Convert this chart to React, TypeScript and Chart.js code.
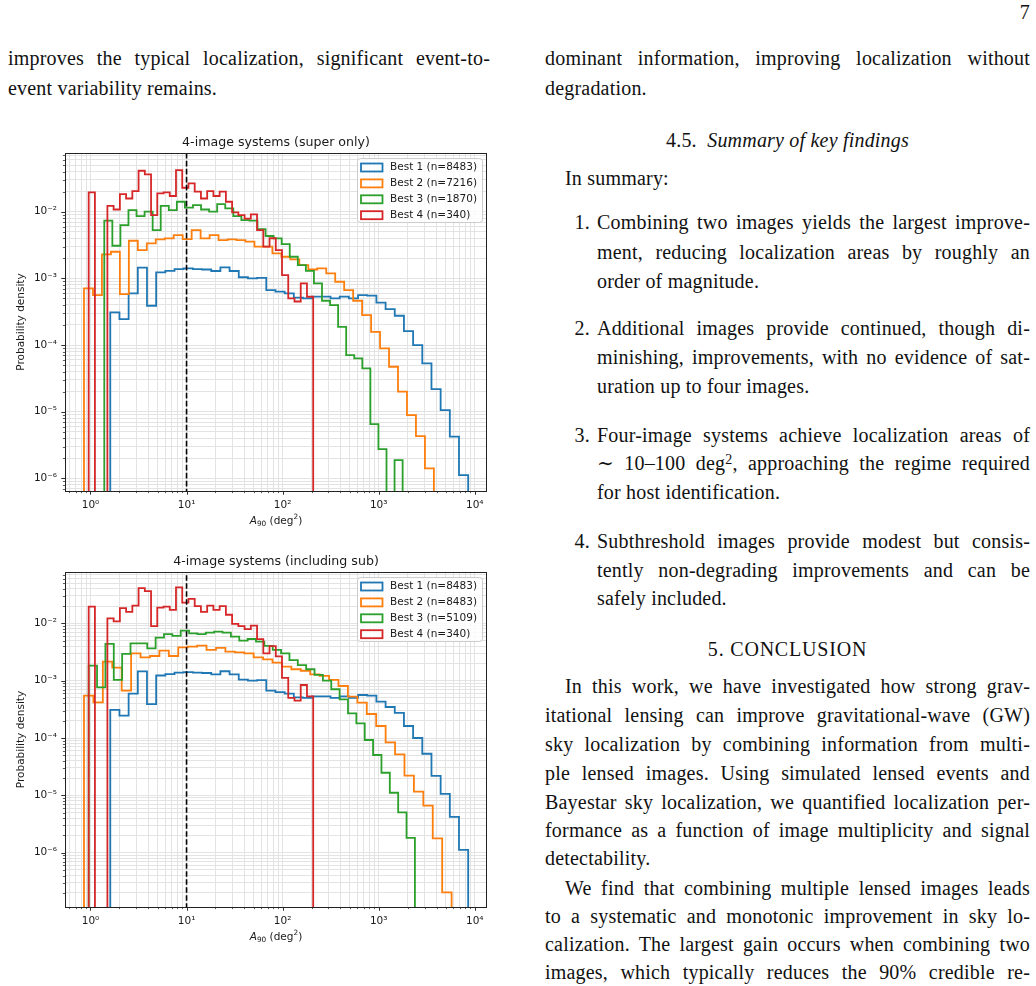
import React, { useEffect, useRef } from "react";
import { Chart, registerables } from "chart.js";

Chart.register(...registerables);

// ---------------- data ----------------
const SERIES_NAMES = ["Best 1", "Best 2", "Best 3", "Best 4"];
const SUPER_COUNTS = [8483, 7216, 1870, 340];
const SUB_COUNTS = [8483, 8483, 5109, 340];
const SUPER_TITLE = "4-image systems (super only)";
const SUB_TITLE = "4-image systems (including sub)";
const Y_AXIS_LABEL = "Probability density";
// x label "A_90 (deg^2)": [italic base, subscript, text, superscript, text]
const X_AXIS_LABEL_PARTS = ["A", "90", " (deg", "2", ")"];
const X_TICK_DECADES = [0, 1, 2, 3, 4];
const Y_TICK_DECADES = [-6, -5, -4, -3, -2];
const X_LIMITS = [0.543, 13400];
const SUPER_Y_LIMITS = [6.47e-7, 0.076];
const SUB_Y_LIMITS = [1.13e-7, 0.0785];
const REFERENCE_A90 = 10;

// log-spaced histogram ranges [first edge, last edge]; bins = number of density values
const BEST1_RANGE = [1.607, 8535];
const BEST4_RANGE = [0.958, 208];
const SUPER_BEST2_RANGE = [0.856, 3753];
const SUPER_BEST3_RANGE = [1.392, 1774];
const SUB_BEST2_RANGE = [0.856, 5737];
const SUB_BEST3_RANGE = [0.958, 2381];

// Best 1 (identical in both panels)
const BEST1_DENSITY = [
  3.09e-4, 2.45e-4, 5.96e-4, 1.45e-3, 3.89e-4, 1.23e-3, 1.3e-3, 1.38e-3, 1.41e-3, 1.38e-3,
  1.36e-3, 1.29e-3, 1.46e-3, 1.29e-3, 1.04e-3, 1.0e-3, 1.02e-3, 6.68e-4, 6.31e-4, 5.96e-4,
  5.13e-4, 5.01e-4, 5.31e-4, 5.31e-4, 5.01e-4, 5.31e-4, 5.01e-4, 5.62e-4, 5.5e-4, 4.32e-4,
  3.47e-4, 2.75e-4, 1.62e-4, 1.0e-4, 5.31e-5, 2.19e-5, 1.06e-5, 4.22e-6, 1.12e-6,
];
// Best 4 (identical in both panels)
const BEST4_DENSITY = [
  1.95e-2, 0, 0, 1.22e-2, 1.08e-2, 1.84e-2, 1.58e-2, 2.04e-2, 4.12e-2, 3.63e-2,
  8.9e-3, 1.88e-2, 1.95e-2, 1.72e-2, 4.22e-2, 2.29e-2, 2.66e-2, 2.0e-2, 1.58e-2, 2.04e-2,
  1.72e-2, 2.0e-2, 1.41e-2, 9.8e-3, 8.9e-3, 7.9e-3, 9.1e-3, 5.3e-3, 3.0e-3, 4.0e-3,
  2.66e-3, 1.12e-3, 5.0e-4, 4.5e-4, 8.4e-4, 5.3e-4,
];
// super only
const SUPER_BEST2_DENSITY = [
  7.08e-4, 5.62e-4, 2.29e-3, 2.51e-3, 5.82e-4, 3.67e-3, 2.66e-3, 3.35e-3, 3.85e-3, 3.98e-3,
  4.47e-3, 3.89e-3, 5.31e-3, 3.98e-3, 4.47e-3, 3.76e-3, 3.85e-3, 3.76e-3, 3.55e-3, 2.99e-3,
  2.99e-3, 2.37e-3, 2.11e-3, 1.93e-3, 1.58e-3, 1.36e-3, 1.41e-3, 1.19e-3, 8.91e-4, 6.68e-4,
  4.62e-4, 2.82e-4, 1.58e-4, 8.91e-5, 4.73e-5, 2.0e-5, 8.91e-6, 4.32e-6, 1.41e-6,
];
const SUPER_BEST3_DENSITY = [
  7.33e-3, 3.09e-3, 6.31e-3, 1.06e-2, 8.61e-3, 1.0e-2, 5.31e-3, 1.22e-2, 1.06e-2, 1.41e-2,
  1.15e-2, 1.26e-2, 1.08e-2, 1.0e-2, 1.3e-2, 1.12e-2, 8.61e-3, 7.5e-3, 7.33e-3, 5.5e-3,
  4.32e-3, 3.98e-3, 3.27e-3, 2.11e-3, 1.58e-3, 1.3e-3, 8.41e-4, 4.62e-4, 3.98e-4, 1.88e-4,
  7.08e-5, 6.31e-5, 4.47e-5, 6.53e-6, 2.75e-6, 0, 1.88e-6,
];
// including sub
const SUB_BEST2_DENSITY = [
  5.47e-4, 4.19e-4, 2.14e-3, 1.69e-3, 6.7e-4, 3.0e-3, 2.55e-3, 2.69e-3, 3.33e-3, 2.69e-3,
  3.81e-3, 3.92e-3, 4.07e-3, 3.43e-3, 3.72e-3, 3.21e-3, 3.12e-3, 3.0e-3, 2.55e-3, 2.36e-3,
  2.06e-3, 1.75e-3, 1.58e-3, 1.49e-3, 1.29e-3, 1.21e-3, 1.03e-3, 8.07e-4, 5.26e-4, 4.13e-4,
  2.62e-4, 1.62e-4, 8.39e-5, 5.19e-5, 2.2e-5, 1.16e-5, 6.61e-6, 1.78e-6, 2.03e-7,
];
const SUB_BEST3_DENSITY = [
  1.83e-3, 7.66e-4, 4.37e-3, 1.03e-3, 2.92e-3, 4.48e-3, 4.48e-3, 3.66e-3, 5.62e-3, 6.46e-3,
  6.03e-3, 7.45e-3, 6.7e-3, 6.46e-3, 6.87e-3, 7.16e-3, 6.87e-3, 5.85e-3, 5.01e-3, 5.33e-3,
  4.79e-3, 4.03e-3, 3.43e-3, 3.0e-3, 2.29e-3, 1.87e-3, 1.58e-3, 1.26e-3, 1.0e-3, 7.08e-4,
  4.72e-4, 2.69e-4, 1.8e-4, 9.23e-5, 5.05e-5, 2.48e-5, 1.11e-5, 5.05e-6, 1.82e-6,
];

// ---------------- styling ----------------
const COLORS = ["#1f77b4", "#ff7f0e", "#2ca02c", "#d62728"];
const FONT = '"DejaVu Sans", sans-serif';
const INK = "#1a1a1a";
const GRID = "#e3e3e3";
const FLOOR = 1e-12;

const SUP: Record<string, string> = {
  "-": "\u207b", "0": "\u2070", "1": "\u00b9", "2": "\u00b2", "3": "\u00b3",
  "4": "\u2074", "5": "\u2075", "6": "\u2076", "7": "\u2077", "8": "\u2078", "9": "\u2079",
};
const powLabel = (e: number) => "10" + String(e).split("").map((c) => SUP[c]).join("");

function decadeLabel(value: number, decades: number[]) {
  const l = Math.log10(value);
  const e = Math.round(l);
  if (Math.abs(l - e) > 1e-6 || !decades.includes(e)) return "";
  return powLabel(e);
}

function logTicks(min: number, max: number) {
  const out: { value: number; major: boolean }[] = [];
  for (let e = Math.floor(Math.log10(min)); e <= Math.ceil(Math.log10(max)); e++) {
    for (let m = 1; m <= 9; m++) {
      const v = m * Math.pow(10, e);
      if (v >= min && v <= max) out.push({ value: v, major: m === 1 });
    }
  }
  return out;
}

function histogramPoints(range: number[], density: number[]) {
  const n = density.length;
  const l0 = Math.log10(range[0]);
  const l1 = Math.log10(range[1]);
  const edges = Array.from({ length: n + 1 }, (_, i) => Math.pow(10, l0 + ((l1 - l0) * i) / n));
  const pts = [{ x: edges[0], y: FLOOR }];
  density.forEach((d, i) => pts.push({ x: edges[i], y: d > 0 ? d : FLOOR }));
  pts.push({ x: edges[n], y: FLOOR });
  return pts;
}

type Series = { range: number[]; density: number[] };

function decorPlugin(title: string) {
  return {
    id: "decor",
    afterDraw(chart: any) {
      const { ctx, chartArea: a, scales } = chart;
      ctx.save();
      // tick marks
      ctx.strokeStyle = INK;
      for (const t of scales.x.ticks) {
        const x = Math.round(scales.x.getPixelForValue(t.value)) + 0.5;
        ctx.lineWidth = t.major ? 0.9 : 0.7;
        ctx.beginPath();
        ctx.moveTo(x, a.bottom);
        ctx.lineTo(x, a.bottom + (t.major ? 3.7 : 2.1));
        ctx.stroke();
      }
      for (const t of scales.y.ticks) {
        const y = Math.round(scales.y.getPixelForValue(t.value)) + 0.5;
        ctx.lineWidth = t.major ? 0.9 : 0.7;
        ctx.beginPath();
        ctx.moveTo(a.left, y);
        ctx.lineTo(a.left - (t.major ? 3.7 : 2.1), y);
        ctx.stroke();
      }
      // frame
      ctx.lineWidth = 1;
      ctx.strokeStyle = "#222";
      ctx.strokeRect(Math.round(a.left) + 0.5, Math.round(a.top) + 0.5, Math.round(a.right - a.left) - 1, Math.round(a.bottom - a.top));
      // title
      ctx.fillStyle = INK;
      ctx.font = `12.6px ${FONT}`;
      ctx.textAlign = "center";
      ctx.textBaseline = "alphabetic";
      ctx.fillText(title, (a.left + a.right) / 2, a.top - 6.8);
      // y label
      ctx.save();
      ctx.translate(21.7, (a.top + a.bottom) / 2);
      ctx.rotate(-Math.PI / 2);
      ctx.font = `10.5px ${FONT}`;
      ctx.textBaseline = "middle";
      ctx.fillText(Y_AXIS_LABEL, 0, 0);
      ctx.restore();
      // x label
      const parts = [
        { t: X_AXIS_LABEL_PARTS[0], f: `italic 10.5px ${FONT}`, dy: 0 },
        { t: X_AXIS_LABEL_PARTS[1], f: `7.35px ${FONT}`, dy: 2.3 },
        { t: X_AXIS_LABEL_PARTS[2], f: `10.5px ${FONT}`, dy: 0 },
        { t: X_AXIS_LABEL_PARTS[3], f: `7.35px ${FONT}`, dy: -4.3 },
        { t: X_AXIS_LABEL_PARTS[4], f: `10.5px ${FONT}`, dy: 0 },
      ];
      let total = 0;
      const widths = parts.map((p) => {
        ctx.font = p.f;
        const w = ctx.measureText(p.t).width;
        total += w;
        return w;
      });
      let cx = (a.left + a.right) / 2 - total / 2;
      const base = a.bottom + 32.5;
      ctx.textAlign = "left";
      ctx.textBaseline = "alphabetic";
      parts.forEach((p, i) => {
        ctx.font = p.f;
        ctx.fillText(p.t, cx, base + p.dy);
        cx += widths[i];
      });
      // legend
      const items = chart.data.datasets.filter((d: any) => d.inLegend);
      const lw = 125;
      const lh = 64;
      const lx = a.right - 5 - lw;
      const ly = a.top + 5;
      ctx.beginPath();
      if (ctx.roundRect) ctx.roundRect(lx + 0.5, ly + 0.5, lw, lh, 3);
      else ctx.rect(lx + 0.5, ly + 0.5, lw, lh);
      ctx.fillStyle = "rgba(255,255,255,0.8)";
      ctx.fill();
      ctx.strokeStyle = "#cccccc";
      ctx.lineWidth = 1;
      ctx.stroke();
      items.forEach((d: any, i: number) => {
        const cy = ly + 9.5 + i * 15.9;
        ctx.strokeStyle = d.borderColor;
        ctx.lineWidth = 1.8;
        ctx.strokeRect(lx + 4, cy - 4, 21.5, 8);
        ctx.fillStyle = INK;
        ctx.font = `10.5px ${FONT}`;
        ctx.textBaseline = "middle";
        ctx.textAlign = "left";
        ctx.fillText(d.label, lx + 33, cy);
      });
      ctx.restore();
    },
  };
}

function HistPanel(props: { top: number; plotHeight: number; title: string; series: Series[]; counts: number[]; yLimits: number[] }) {
  const ref = useRef<HTMLCanvasElement | null>(null);
  const height = 28 + props.plotHeight + 49;
  useEffect(() => {
    const canvas = ref.current;
    if (!canvas) return;
    const datasets: any[] = props.series.map((s, i) => ({
      label: `${SERIES_NAMES[i]} (n=${props.counts[i]})`,
      data: histogramPoints(s.range, s.density),
      borderColor: COLORS[i],
      backgroundColor: COLORS[i],
      borderWidth: 1.8,
      pointRadius: 0,
      stepped: "before",
      fill: false,
      borderJoinStyle: "miter",
      borderCapStyle: "butt",
      order: 4 - i,
      inLegend: true,
    }));
    datasets.push({
      label: "reference",
      data: [
        { x: REFERENCE_A90, y: FLOOR },
        { x: REFERENCE_A90, y: 1 },
      ],
      borderColor: "#000",
      borderWidth: 1.6,
      borderDash: [5.6, 2.4],
      pointRadius: 0,
      fill: false,
      order: 0,
      inLegend: false,
    });
    const chart = new Chart(canvas, {
      type: "line",
      data: { datasets },
      options: {
        animation: false,
        responsive: false,
        maintainAspectRatio: false,
        devicePixelRatio: 1,
        events: [],
        layout: { padding: { top: 28, right: 13, bottom: 0, left: 0 }, autoPadding: false },
        plugins: { legend: { display: false }, tooltip: { enabled: false }, title: { display: false } },
        scales: {
          x: {
            type: "logarithmic",
            min: X_LIMITS[0],
            max: X_LIMITS[1],
            afterBuildTicks: (s: any) => {
              s.ticks = logTicks(X_LIMITS[0], X_LIMITS[1]);
            },
            afterFit: (s: any) => {
              s.height = 49;
            },
            grid: { color: GRID, lineWidth: 1, drawTicks: false },
            border: { display: false },
            ticks: {
              autoSkip: false,
              maxRotation: 0,
              minRotation: 0,
              padding: 7.5,
              color: INK,
              font: { family: FONT, size: 10.5 },
              callback: (v: any) => decadeLabel(Number(v), X_TICK_DECADES),
            },
          },
          y: {
            type: "logarithmic",
            min: props.yLimits[0],
            max: props.yLimits[1],
            afterBuildTicks: (s: any) => {
              s.ticks = logTicks(props.yLimits[0], props.yLimits[1]);
            },
            afterFit: (s: any) => {
              s.width = 65;
            },
            grid: { color: GRID, lineWidth: 1, drawTicks: false },
            border: { display: false },
            ticks: {
              autoSkip: false,
              padding: 8,
              color: INK,
              font: { family: FONT, size: 10.5 },
              callback: (v: any) => decadeLabel(Number(v), Y_TICK_DECADES),
            },
          },
        },
      } as any,
      plugins: [decorPlugin(props.title)],
    });
    return () => chart.destroy();
  }, []);
  return (
    <canvas
      ref={ref}
      width={500}
      height={height}
      style={{ position: "absolute", left: 0, top: props.top, width: 500, height, display: "block" }}
    />
  );
}

// ---------------- page text ----------------
function TL(props: { x: number; y: number; w: number; justify?: boolean; center?: boolean; children: React.ReactNode; style?: React.CSSProperties }) {
  const align = props.center ? "center" : props.justify ? "justify" : "left";
  return (
    <div
      style={{
        position: "absolute",
        left: props.x,
        top: props.y - 15,
        width: props.w,
        height: 30,
        lineHeight: "30px",
        fontSize: 20,
        letterSpacing: "0.2px",
        textAlign: align as any,
        textAlignLast: align as any,
        ...props.style,
      }}
    >
      {props.children}
    </div>
  );
}

const sup2 = <span style={{ fontSize: "0.7em", position: "relative", top: "-0.45em" }}>2</span>;

export default function App() {
  const RX = 545;
  const RW = 485;
  const LX = 597;
  const LW = 433;
  const num = (n: string, y: number) => (
    <TL x={555} y={y} w={35} style={{ textAlign: "right", textAlignLast: "right" }}>
      {n}
    </TL>
  );
  return (
    <div
      style={{
        position: "absolute",
        left: 0,
        top: 0,
        width: 1036,
        height: 986,
        background: "#fff",
        overflow: "hidden",
        fontFamily: '"Liberation Serif", "DejaVu Serif", serif',
        color: "#111",
      }}
    >
      <TL x={1000} y={12} w={30} style={{ textAlign: "right", textAlignLast: "right" }}>7</TL>

      <TL x={8} y={58} w={482} justify>improves the typical localization, significant event-to-</TL>
      <TL x={8} y={88} w={482}>event variability remains.</TL>

      <TL x={RX} y={58} w={RW} justify>dominant information, improving localization without</TL>
      <TL x={RX} y={88} w={RW}>degradation.</TL>
      <TL x={RX} y={140} w={RW} center>
        4.5.&nbsp;&nbsp;<i>Summary of key findings</i>
      </TL>
      <TL x={565} y={178} w={465}>In summary:</TL>

      {num("1.", 222)}
      <TL x={LX} y={222} w={LW} justify>Combining two images yields the largest improve-</TL>
      <TL x={LX} y={252} w={LW} justify>ment, reducing localization areas by roughly an</TL>
      <TL x={LX} y={281} w={LW}>order of magnitude.</TL>

      {num("2.", 328)}
      <TL x={LX} y={328} w={LW} justify>Additional images provide continued, though di-</TL>
      <TL x={LX} y={357} w={LW} justify>minishing, improvements, with no evidence of sat-</TL>
      <TL x={LX} y={386} w={LW}>uration up to four images.</TL>

      {num("3.", 435)}
      <TL x={LX} y={435} w={LW} justify>Four-image systems achieve localization areas of</TL>
      <TL x={LX} y={463} w={LW} justify>
        {"\u223c 10\u2013100 deg"}
        {sup2}
        {", approaching the regime required"}
      </TL>
      <TL x={LX} y={492} w={LW}>for host identification.</TL>

      {num("4.", 541)}
      <TL x={LX} y={541} w={LW} justify>Subthreshold images provide modest but consis-</TL>
      <TL x={LX} y={570} w={LW} justify>tently non-degrading improvements and can be</TL>
      <TL x={LX} y={598} w={LW}>safely included.</TL>

      <TL x={RX} y={649} w={RW} center style={{ letterSpacing: "0.8px" }}>5. CONCLUSION</TL>

      <TL x={565} y={686} w={465} justify>In this work, we have investigated how strong grav-</TL>
      <TL x={RX} y={715} w={RW} justify>itational lensing can improve gravitational-wave (GW)</TL>
      <TL x={RX} y={744} w={RW} justify>sky localization by combining information from multi-</TL>
      <TL x={RX} y={773} w={RW} justify>ple lensed images. Using simulated lensed events and</TL>
      <TL x={RX} y={802} w={RW} justify>Bayestar sky localization, we quantified localization per-</TL>
      <TL x={RX} y={830} w={RW} justify>formance as a function of image multiplicity and signal</TL>
      <TL x={RX} y={858} w={RW}>detectability.</TL>

      <TL x={565} y={888} w={465} justify>We find that combining multiple lensed images leads</TL>
      <TL x={RX} y={916} w={RW} justify>to a systematic and monotonic improvement in sky lo-</TL>
      <TL x={RX} y={944} w={RW} justify>calization. The largest gain occurs when combining two</TL>
      <TL x={RX} y={972} w={RW} justify>images, which typically reduces the 90% credible re-</TL>

      <HistPanel
        top={125}
        plotHeight={338}
        title={SUPER_TITLE}
        counts={SUPER_COUNTS}
        yLimits={SUPER_Y_LIMITS}
        series={[
          { range: BEST1_RANGE, density: BEST1_DENSITY },
          { range: SUPER_BEST2_RANGE, density: SUPER_BEST2_DENSITY },
          { range: SUPER_BEST3_RANGE, density: SUPER_BEST3_DENSITY },
          { range: BEST4_RANGE, density: BEST4_DENSITY },
        ]}
      />
      <HistPanel
        top={544}
        plotHeight={335}
        title={SUB_TITLE}
        counts={SUB_COUNTS}
        yLimits={SUB_Y_LIMITS}
        series={[
          { range: BEST1_RANGE, density: BEST1_DENSITY },
          { range: SUB_BEST2_RANGE, density: SUB_BEST2_DENSITY },
          { range: SUB_BEST3_RANGE, density: SUB_BEST3_DENSITY },
          { range: BEST4_RANGE, density: BEST4_DENSITY },
        ]}
      />
    </div>
  );
}
